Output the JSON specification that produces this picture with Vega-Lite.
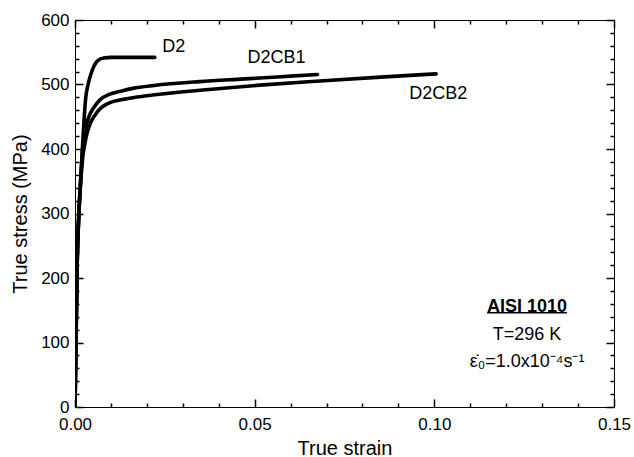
{
  "$schema": "https://vega.github.io/schema/vega-lite/v6.json",
  "width": 539,
  "height": 387,
  "autosize": "none",
  "padding": {"left": 75, "top": 20, "right": 20, "bottom": 50},
  "background": "white",
  "config": {
    "view": {"stroke": "black", "strokeWidth": 1},
    "font": "Liberation Sans",
    "axis": {
      "domain": false,
      "zindex": 1,
      "tickColor": "black",
      "tickWidth": 1.5,
      "labelColor": "black",
      "titleColor": "black",
      "labelFont": "Liberation Sans",
      "titleFont": "Liberation Sans",
      "labelFontSize": 17,
      "titleFontSize": 20,
      "titleFontWeight": "normal",
      "grid": false
    }
  },
  "resolve": {"axis": {"x": "independent", "y": "independent"}},
  "datasets": {
    "curves": [
      {"specimen": "D2", "strain": 0.0, "stress": 0},
      {"specimen": "D2", "strain": 0.0003, "stress": 110},
      {"specimen": "D2", "strain": 0.0006, "stress": 220},
      {"specimen": "D2", "strain": 0.001, "stress": 290},
      {"specimen": "D2", "strain": 0.0014, "stress": 335},
      {"specimen": "D2", "strain": 0.0018, "stress": 375},
      {"specimen": "D2", "strain": 0.0022, "stress": 415},
      {"specimen": "D2", "strain": 0.0026, "stress": 452},
      {"specimen": "D2", "strain": 0.003, "stress": 480},
      {"specimen": "D2", "strain": 0.0036, "stress": 499},
      {"specimen": "D2", "strain": 0.0042, "stress": 512},
      {"specimen": "D2", "strain": 0.005, "stress": 525},
      {"specimen": "D2", "strain": 0.006, "stress": 535},
      {"specimen": "D2", "strain": 0.007, "stress": 539.5},
      {"specimen": "D2", "strain": 0.008, "stress": 541},
      {"specimen": "D2", "strain": 0.01, "stress": 542},
      {"specimen": "D2", "strain": 0.014, "stress": 542},
      {"specimen": "D2", "strain": 0.018, "stress": 542},
      {"specimen": "D2", "strain": 0.0222, "stress": 542},
      {"specimen": "D2CB1", "strain": 0.0, "stress": 0},
      {"specimen": "D2CB1", "strain": 0.0003, "stress": 110},
      {"specimen": "D2CB1", "strain": 0.0006, "stress": 220},
      {"specimen": "D2CB1", "strain": 0.001, "stress": 290},
      {"specimen": "D2CB1", "strain": 0.0014, "stress": 335},
      {"specimen": "D2CB1", "strain": 0.0018, "stress": 372},
      {"specimen": "D2CB1", "strain": 0.0022, "stress": 403},
      {"specimen": "D2CB1", "strain": 0.0027, "stress": 425},
      {"specimen": "D2CB1", "strain": 0.0033, "stress": 440},
      {"specimen": "D2CB1", "strain": 0.004, "stress": 452},
      {"specimen": "D2CB1", "strain": 0.0051, "stress": 463},
      {"specimen": "D2CB1", "strain": 0.0069, "stress": 476},
      {"specimen": "D2CB1", "strain": 0.0097, "stress": 485},
      {"specimen": "D2CB1", "strain": 0.013, "stress": 490},
      {"specimen": "D2CB1", "strain": 0.0161, "stress": 494},
      {"specimen": "D2CB1", "strain": 0.022, "stress": 498.5},
      {"specimen": "D2CB1", "strain": 0.0347, "stress": 504.5},
      {"specimen": "D2CB1", "strain": 0.045, "stress": 508},
      {"specimen": "D2CB1", "strain": 0.0514, "stress": 510},
      {"specimen": "D2CB1", "strain": 0.06, "stress": 513},
      {"specimen": "D2CB1", "strain": 0.0675, "stress": 515.5},
      {"specimen": "D2CB2", "strain": 0.0, "stress": 0},
      {"specimen": "D2CB2", "strain": 0.0003, "stress": 110},
      {"specimen": "D2CB2", "strain": 0.0006, "stress": 220},
      {"specimen": "D2CB2", "strain": 0.001, "stress": 290},
      {"specimen": "D2CB2", "strain": 0.0014, "stress": 333},
      {"specimen": "D2CB2", "strain": 0.0018, "stress": 365},
      {"specimen": "D2CB2", "strain": 0.0022, "stress": 390},
      {"specimen": "D2CB2", "strain": 0.0027, "stress": 407},
      {"specimen": "D2CB2", "strain": 0.0033, "stress": 423},
      {"specimen": "D2CB2", "strain": 0.0042, "stress": 439},
      {"specimen": "D2CB2", "strain": 0.0055, "stress": 452},
      {"specimen": "D2CB2", "strain": 0.0069, "stress": 462},
      {"specimen": "D2CB2", "strain": 0.009, "stress": 470},
      {"specimen": "D2CB2", "strain": 0.0144, "stress": 478},
      {"specimen": "D2CB2", "strain": 0.02, "stress": 482.5},
      {"specimen": "D2CB2", "strain": 0.0347, "stress": 491},
      {"specimen": "D2CB2", "strain": 0.0514, "stress": 499},
      {"specimen": "D2CB2", "strain": 0.0681, "stress": 505.5},
      {"specimen": "D2CB2", "strain": 0.085, "stress": 511.5},
      {"specimen": "D2CB2", "strain": 0.1005, "stress": 516.5}
    ],
    "labels": [
      {"label": "D2", "strain": 0.0275, "stress": 558},
      {"label": "D2CB1", "strain": 0.0561, "stress": 541},
      {"label": "D2CB2", "strain": 0.1011, "stress": 485}
    ],
    "title": [
      {"text": "AISI 1010", "strain": 0.1258, "stress": 155, "from": 0.1147, "to": 0.1369, "line": 146}
    ],
    "notes": [
      {"text": "T=296 K", "strain": 0.1258, "stress": 111.6},
      {"text": "\u03b5\u0307\u2080=1.0x10\u207b\u2074s\u207b\u00b9", "strain": 0.1258, "stress": 69.8}
    ]
  },
  "layer": [
    {
      "data": {"name": "curves"},
      "mark": {"type": "line", "color": "black", "strokeWidth": 3.6, "strokeCap": "round", "strokeJoin": "round", "interpolate": "monotone", "clip": true},
      "encoding": {
        "x": {
          "field": "strain", "type": "quantitative",
          "scale": {"domain": [0, 0.15], "nice": false, "zero": false},
          "axis": {
            "orient": "bottom", "title": "True strain", "titlePadding": 6,
            "values": [0, 0.05, 0.1, 0.15], "format": ".2f",
            "offset": -8, "tickSize": 8, "labelPadding": 9,
            "labelFlush": false, "labelOverlap": false
          }
        },
        "y": {
          "field": "stress", "type": "quantitative",
          "scale": {"domain": [0, 600], "nice": false},
          "axis": {
            "orient": "left", "title": "True stress (MPa)", "titlePadding": 10,
            "values": [0, 100, 200, 300, 400, 500, 600], "format": "d",
            "offset": -8, "tickSize": 8, "labelPadding": 6, "labelOverlap": false
          }
        },
        "detail": {"field": "specimen", "type": "nominal"}
      }
    },
    {
      "data": {"name": "labels"},
      "mark": {"type": "text", "fontSize": 18, "color": "black", "font": "Liberation Sans"},
      "encoding": {
        "x": {
          "field": "strain", "type": "quantitative",
          "axis": {
            "orient": "top", "title": null, "labels": false,
            "values": [0, 0.05, 0.1, 0.15],
            "offset": -8, "tickSize": 8
          }
        },
        "y": {
          "field": "stress", "type": "quantitative",
          "axis": {
            "orient": "right", "title": null, "labels": false,
            "values": [0, 100, 200, 300, 400, 500, 600],
            "offset": -8, "tickSize": 8
          }
        },
        "text": {"field": "label"}
      }
    },
    {
      "data": {"name": "title"},
      "mark": {"type": "text", "fontSize": 18, "fontWeight": "bold", "color": "black", "font": "Liberation Sans"},
      "encoding": {
        "x": {
          "field": "strain", "type": "quantitative",
          "axis": {
            "orient": "bottom", "title": null, "labels": false,
            "values": [0.01, 0.02, 0.03, 0.04, 0.06, 0.07, 0.08, 0.09, 0.11, 0.12, 0.13, 0.14],
            "offset": -4, "tickSize": 4
          }
        },
        "y": {
          "field": "stress", "type": "quantitative",
          "axis": {
            "orient": "left", "title": null, "labels": false,
            "values": [20, 40, 60, 80, 120, 140, 160, 180, 220, 240, 260, 280, 320, 340, 360, 380, 420, 440, 460, 480, 520, 540, 560, 580],
            "offset": -4, "tickSize": 4
          }
        },
        "text": {"field": "text"}
      }
    },
    {
      "data": {"name": "notes"},
      "mark": {"type": "text", "fontSize": 18, "color": "black", "font": "Liberation Sans"},
      "encoding": {
        "x": {
          "field": "strain", "type": "quantitative",
          "axis": {
            "orient": "top", "title": null, "labels": false,
            "values": [0.01, 0.02, 0.03, 0.04, 0.06, 0.07, 0.08, 0.09, 0.11, 0.12, 0.13, 0.14],
            "offset": -4, "tickSize": 4
          }
        },
        "y": {
          "field": "stress", "type": "quantitative",
          "axis": {
            "orient": "right", "title": null, "labels": false,
            "values": [20, 40, 60, 80, 120, 140, 160, 180, 220, 240, 260, 280, 320, 340, 360, 380, 420, 440, 460, 480, 520, 540, 560, 580],
            "offset": -4, "tickSize": 4
          }
        },
        "text": {"field": "text"}
      }
    },
    {
      "data": {"name": "title"},
      "mark": {"type": "rule", "color": "black", "strokeWidth": 1.5},
      "encoding": {
        "x": {"field": "from", "type": "quantitative", "axis": null},
        "x2": {"field": "to"},
        "y": {"field": "line", "type": "quantitative", "axis": null}
      }
    }
  ]
}
